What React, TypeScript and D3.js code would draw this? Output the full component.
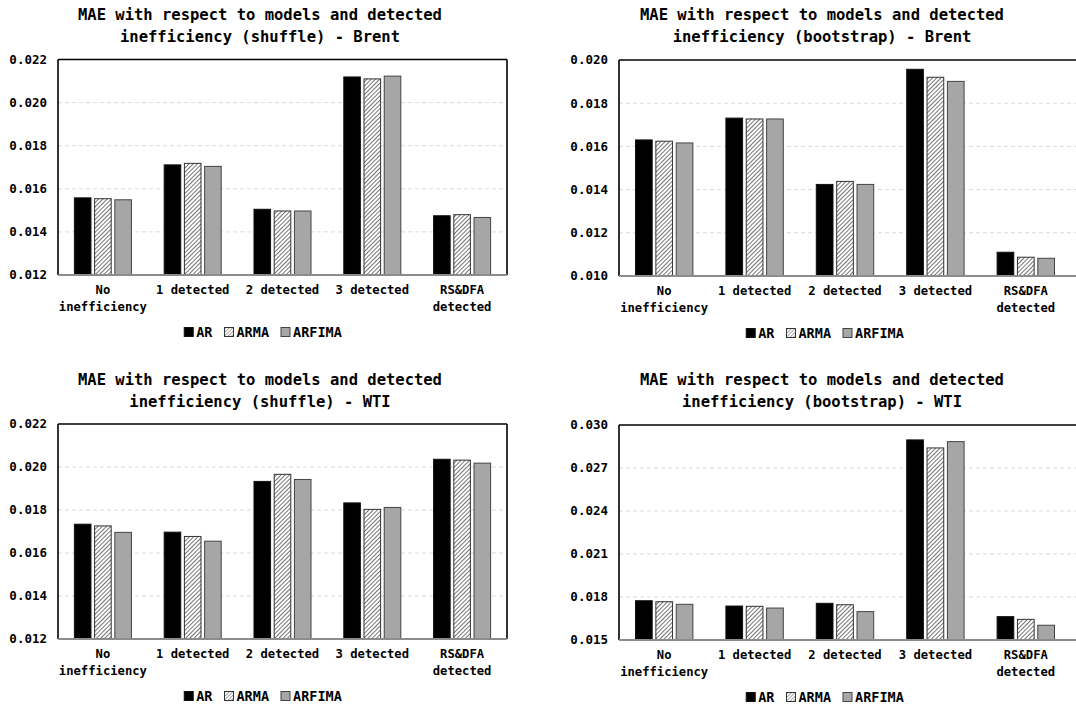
import * as d3 from 'd3'

const categories: string[][] = [['No', 'inefficiency'], ['1 detected'], ['2 detected'], ['3 detected'], ['RS&DFA', 'detected']]
const series: string[] = ['AR', 'ARMA', 'ARFIMA']

// shuffle - Brent
const arShuffleBrent = [0.01558, 0.01711, 0.01505, 0.02119, 0.01475]
const armaShuffleBrent = [0.01554, 0.01718, 0.01497, 0.0211, 0.0148]
const arfimaShuffleBrent = [0.01549, 0.01704, 0.01497, 0.02123, 0.01467]
// bootstrap - Brent
const arBootBrent = [0.0163, 0.01731, 0.01424, 0.01957, 0.0111]
const armaBootBrent = [0.01624, 0.01727, 0.01438, 0.0192, 0.01087]
const arfimaBootBrent = [0.01616, 0.01727, 0.01424, 0.01901, 0.01082]
// shuffle - WTI
const arShuffleWti = [0.01734, 0.01697, 0.01933, 0.01833, 0.02036]
const armaShuffleWti = [0.01726, 0.01677, 0.01966, 0.01803, 0.02032]
const arfimaShuffleWti = [0.01696, 0.01655, 0.01942, 0.01812, 0.02018]
// bootstrap - WTI
const arBootWti = [0.01774, 0.01737, 0.01756, 0.02896, 0.01663]
const armaBootWti = [0.01767, 0.01735, 0.01746, 0.0284, 0.01644]
const arfimaBootWti = [0.01749, 0.01723, 0.01698, 0.02884, 0.01603]

const ticksShuffle = [0.012, 0.014, 0.016, 0.018, 0.02, 0.022]
const ticksBootBrent = [0.01, 0.012, 0.014, 0.016, 0.018, 0.02]
const ticksBootWti = [0.015, 0.018, 0.021, 0.024, 0.027, 0.03]

const titleTop = 'MAE with respect to models and detected'
const titleBottoms = [
  'inefficiency (shuffle) - Brent',
  'inefficiency (bootstrap) - Brent',
  'inefficiency (shuffle) - WTI',
  'inefficiency (bootstrap) - WTI',
]

// right-hand panels run past the picture edge, so their right border is off-canvas
const panels = [
  { values: [arShuffleBrent, armaShuffleBrent, arfimaShuffleBrent], ticks: ticksShuffle, title: titleBottoms[0],
    x0: 58, x1: 507, right: 507, top: 59.5, bottom: 275, titleX: 260, titleY: 15, legendX: 263 },
  { values: [arBootBrent, armaBootBrent, arfimaBootBrent], ticks: ticksBootBrent, title: titleBottoms[1],
    x0: 619, x1: 1071, right: 1095, top: 60, bottom: 276, titleX: 822, titleY: 15, legendX: 825 },
  { values: [arShuffleWti, armaShuffleWti, arfimaShuffleWti], ticks: ticksShuffle, title: titleBottoms[2],
    x0: 58, x1: 507, right: 507, top: 424, bottom: 639, titleX: 260, titleY: 380, legendX: 263 },
  { values: [arBootWti, armaBootWti, arfimaBootWti], ticks: ticksBootWti, title: titleBottoms[3],
    x0: 619, x1: 1071, right: 1095, top: 425, bottom: 640, titleX: 822, titleY: 380, legendX: 825 },
]

const font = '"DejaVu Sans Mono", monospace'
const fills = ['#000000', 'url(#hatch)', '#a6a6a6']
const legendFills = ['#000000', 'url(#hatchSmall)', '#a6a6a6']
const strokes = ['#111', '#333', '#444']
const fmt = d3.format('.3f')

function Panel({ p }: { p: typeof panels[number] }) {
  const x = d3.scaleBand<number>().domain(d3.range(categories.length)).range([p.x0, p.x1]).paddingInner(0.365).paddingOuter(0.1825)
  const xs = d3.scaleBand<number>().domain(d3.range(series.length)).range([0, x.bandwidth()]).paddingInner(0.18)
  const y = d3.scaleLinear().domain([p.ticks[0], p.ticks[p.ticks.length - 1]]).range([p.bottom, p.top])

  // legend layout: square + gap + text, monospace width estimate
  const cw = 13.5 * 0.602
  const widths = series.map(s => 12 + s.length * cw)
  const gap = 12
  const total = d3.sum(widths) + gap * (series.length - 1)
  let lx = p.legendX - total / 2
  const legendPos = widths.map(w => { const v = lx; lx += w + gap; return v })
  const legendY = p.bottom + 57

  return (
    <g>
      <text x={p.titleX} y={p.titleY} dy="0.35em" textAnchor="middle" fontFamily={font} fontWeight="bold" fontSize={15.5}>{titleTop}</text>
      <text x={p.titleX} y={p.titleY + 22} dy="0.35em" textAnchor="middle" fontFamily={font} fontWeight="bold" fontSize={15.5}>{p.title}</text>
      {p.ticks.slice(1, -1).map(t => (
        <line key={t} x1={p.x0} x2={p.right} y1={y(t)} y2={y(t)} stroke="#d9d9d9" strokeWidth={1} strokeDasharray="4,3" />
      ))}
      {p.ticks.map(t => (
        <text key={'l' + t} x={p.x0 - 11} y={y(t)} dy="0.35em" textAnchor="end" fontFamily={font} fontWeight="bold" fontSize={12.5}>{fmt(t)}</text>
      ))}
      {p.values.map((vals, si) => vals.map((v, ci) => (
        <rect key={si + '-' + ci} x={(x(ci) ?? 0) + (xs(si) ?? 0)} y={y(v)} width={xs.bandwidth()} height={y(p.ticks[0]) - y(v)}
          fill={fills[si]} stroke={strokes[si]} strokeWidth={1} />
      )))}
      <line x1={p.x0} x2={p.right} y1={p.top} y2={p.top} stroke="#000" strokeWidth={1.6} />
      <line x1={p.x0} x2={p.x0} y1={p.top} y2={p.bottom} stroke="#000" strokeWidth={1.6} />
      <line x1={p.right} x2={p.right} y1={p.top} y2={p.bottom} stroke="#000" strokeWidth={1.6} />
      <line x1={p.x0} x2={p.right} y1={p.bottom} y2={p.bottom} stroke="#8c8c8c" strokeWidth={2} />
      {categories.map((lines, ci) => (
        <text key={'c' + ci} y={p.bottom + 15} dy="0.35em" textAnchor="middle" fontFamily={font} fontWeight="bold" fontSize={12.2}>
          {lines.map((l, li) => <tspan key={li} x={(x(ci) ?? 0) + x.bandwidth() / 2} dy={li === 0 ? '0.35em' : 17}>{l}</tspan>)}
        </text>
      ))}
      {series.map((s, si) => (
        <g key={s} transform={`translate(${legendPos[si]},${legendY})`}>
          <rect x={0} y={-4.5} width={9} height={9} fill={legendFills[si]} stroke={strokes[si]} strokeWidth={1} />
          <text x={12} y={0} dy="0.35em" fontFamily={font} fontWeight="bold" fontSize={13.5}>{s}</text>
        </g>
      ))}
    </g>
  )
}

export default function App() {
  return (
    <svg width={1076} height={706} style={{ position: 'absolute', left: 0, top: 0, background: '#fff' }}>
      <defs>
        <pattern id="hatch" patternUnits="userSpaceOnUse" width={3} height={3} patternTransform="rotate(45)">
          <rect width={3} height={3} fill="#fff" />
          <line x1={0} y1={0} x2={0} y2={3} stroke="#2a2a2a" strokeWidth={1.3} />
        </pattern>
        <pattern id="hatchSmall" patternUnits="userSpaceOnUse" width={2.5} height={2.5} patternTransform="rotate(45)">
          <rect width={2.5} height={2.5} fill="#fff" />
          <line x1={0} y1={0} x2={0} y2={2.5} stroke="#444" strokeWidth={0.9} />
        </pattern>
      </defs>
      <rect width={1076} height={706} fill="#fff" />
      {panels.map((p, i) => <Panel key={i} p={p} />)}
    </svg>
  )
}
